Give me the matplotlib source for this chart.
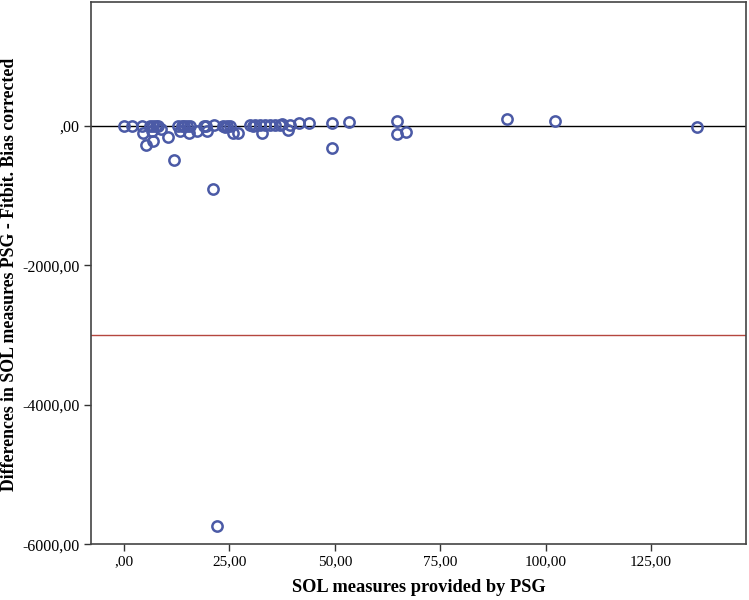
import matplotlib
matplotlib.use("Agg")
import matplotlib.pyplot as plt

# Data
psg_sol = [0.0, 1.8, 4.2, 4.4, 5.3, 6.2, 6.6, 6.9, 6.9, 7.5, 8.1, 8.8, 10.4, 11.9,
           12.9, 13.3, 13.7, 14.2, 14.9, 15.5, 15.7, 17.4, 18.9, 19.4, 19.8, 21.0,
           21.4, 22.0, 23.4, 24.0, 24.5, 25.1, 25.9, 27.1, 29.9, 30.5, 31.1, 32.3,
           32.7, 33.4, 34.6, 35.8, 37.0, 37.4, 39.0, 39.4, 41.6, 43.9, 49.3, 49.3,
           53.4, 64.8, 64.8, 66.9, 90.9, 102.3, 135.8]
diff_sol = [0, 0, 0, -104, -276, 0, -72, 0, -215, 0, 0, -47, -166, -486,
            5, -72, 5, 0, 5, -95, 5, -72, 0, 5, -72, -906,
            10, -5745, 5, -10, 0, 5, -95, -95, 8, 0, 8, 15,
            -104, 15, 15, 15, 15, 30, -57, 10, 40, 38, 40, -310,
            50, 67, -119, -90, 96, 72, -19]

mean_line = 0.0
lower_limit = -2995.0

x_ticks = [0, 25, 50, 75, 100, 125]
x_tick_labels = [",00", "25,00", "50,00", "75,00", "100,00", "125,00"]
y_ticks = [0, -2000, -4000, -6000]
y_tick_labels = [",00", "-2000,00", "-4000,00", "-6000,00"]

fig = plt.figure(figsize=(7.49, 6.0), dpi=100)
ax = fig.add_axes([0.121, 0.093, 0.875, 0.904])

serif = ["Liberation Serif", "DejaVu Serif"]

ax.axhline(mean_line, color="black", linewidth=1.0, zorder=1)
ax.axhline(lower_limit, color="#b5473f", linewidth=1.0, zorder=1)

ax.plot(psg_sol, diff_sol, linestyle="none", marker="o", markersize=7.4,
        markerfacecolor="none", markeredgecolor="#4b5aa6", markeredgewidth=1.8,
        zorder=3)

ax.set_xlim(-7.9, 147.5)
ax.set_ylim(-6000, 1780)

ax.set_xticks(x_ticks)
ax.set_xticklabels(x_tick_labels, fontfamily=serif, fontsize=11)
ax.set_yticks(y_ticks)
ax.set_yticklabels(y_tick_labels, fontfamily=serif, fontsize=11.5)
ax.tick_params(axis="both", direction="out", length=5, width=1.0, color="#333333",
               pad=3)

for s in ax.spines.values():
    s.set_color("#444444")
    s.set_linewidth(1.2)

ax.set_xlabel("SOL measures provided by PSG", fontfamily=serif, fontsize=13.2,
              fontweight="bold", labelpad=8)
ax.set_ylabel("Differences in SOL measures PSG - Fitbit. Bias corrected",
              fontfamily=serif, fontsize=12.8, fontweight="bold")
ax.yaxis.set_label_coords(-0.111, 0.498)

fig.savefig("out.png", dpi=100)
